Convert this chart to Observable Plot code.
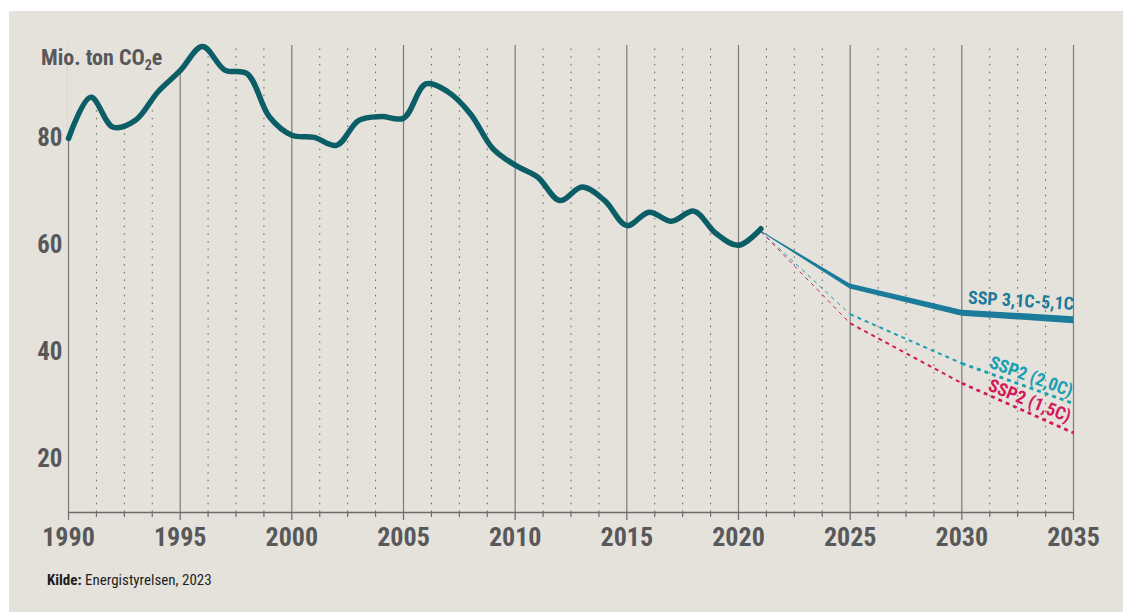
<!DOCTYPE html>
<html>
<head>
<meta charset="utf-8">
<script src="https://cdn.jsdelivr.net/npm/d3@7"></script>
<script src="https://cdn.jsdelivr.net/npm/@observablehq/plot@0.6"></script>
<style>
  html, body { margin: 0; padding: 0; background: #ffffff; }
  #panel { position: absolute; left: 9px; top: 11px; width: 1114px; height: 601px; background: #e5e2dc; overflow: hidden; }
  #chart { position: absolute; left: 0; top: 0; }
  #ytitle { position: absolute; left: 32px; top: 36px; font-family: "Roboto Condensed", "Liberation Sans Narrow", Roboto, sans-serif; font-weight: 700; font-size: 22px; line-height: 22px; color: #58585a; white-space: nowrap; }
  #ytitle sub { font-size: 14px; vertical-align: -5px; line-height: 0; }
  #caption { position: absolute; left: 38px; top: 562px; font-family: "Roboto Condensed", "Liberation Sans Narrow", Roboto, sans-serif; font-size: 15px; line-height: 15px; color: #1e1e1e; white-space: nowrap; }
  #caption b { font-weight: 700; }
</style>
</head>
<body>
<div id="panel">
  <div id="chart"></div>
  <div id="ytitle">Mio. ton CO<sub>2</sub>e</div>
  <div id="caption"><b>Kilde:</b> Energistyrelsen, 2023</div>
</div>
<script>
// ---- Data ----
const years = [1990,1991,1992,1993,1994,1995,1996,1997,1998,1999,2000,2001,2002,2003,2004,2005,2006,2007,2008,2009,2010,2011,2012,2013,2014,2015,2016,2017,2018,2019,2020,2021];
const emissions = [80.0,87.7,82.1,83.4,88.7,92.7,97.2,92.8,92.1,84.0,80.6,80.2,78.7,83.4,84.1,83.8,90.2,88.7,84.6,78.1,75.0,72.8,68.4,70.9,68.4,63.7,66.2,64.5,66.4,62.2,60.0,63.1];

const projYears = [2021, 2025, 2030, 2035];
const ssp31 = [62.6, 52.3, 47.3, 46.0];
const ssp20 = [62.6, 47.1, 37.9, 30.4];
const ssp15 = [62.6, 45.4, 34.2, 24.9];

const seriesLabels = ["SSP 3,1C-5,1C", "SSP2 (2,0C)", "SSP2 (1,5C)"];
const majorTicks = [1990, 1995, 2000, 2005, 2010, 2015, 2020, 2025, 2030, 2035];
const yTicks = [20, 40, 60, 80];

// ---- Layout / style ----
const bg = "#e5e2dc";
const textGray = "#58585a";
const yMin = 10, yMax = 97.4;
const W = 1114, H = 560;
const mL = 59, mR = 50, mT = 34, mB = 59;
const pxPerUnit = (H - mT - mB) / (yMax - yMin);
const font = '"Roboto Condensed", "Liberation Sans Narrow", Roboto, sans-serif';

const minorTicks = d3.range(1990, 2035.001, 1.25).filter(v => Math.abs(v % 5) > 1e-6);

const hist = years.map((y, i) => ({year: y, value: emissions[i]}));
const histMaskData = hist.filter(d => d.year <= 1997);

// tapered band for the main scenario (half widths in px -> data units)
const halfW31 = [0.5, 2.5, 3.0, 3.5];
const band31 = projYears.map((y, i) => ({year: y, lo: ssp31[i] - halfW31[i] / pxPerUnit, hi: ssp31[i] + halfW31[i] / pxPerUnit}));

const segWidths = [1.0, 2.0, 2.8];
function segments(vals, name) {
  const out = [];
  for (let i = 0; i < projYears.length - 1; i++) {
    out.push({x1: projYears[i], y1: vals[i], x2: projYears[i+1], y2: vals[i+1], w: segWidths[i], name});
  }
  return out;
}
const seg20 = segments(ssp20, seriesLabels[1]);
const seg15 = segments(ssp15, seriesLabels[2]);

const labelData = [
  {x: 2035, y: 47.9, text: seriesLabels[0], color: "#1b7b9b", rotate: 3.5},
  {x: 2034.85, y: 31.6, text: seriesLabels[1], color: "#1aa0b2", rotate: 20},
  {x: 2034.75, y: 26.8, text: seriesLabels[2], color: "#d41a5a", rotate: 22}
];

const chart = Plot.plot({
  width: W,
  height: H,
  marginLeft: mL,
  marginRight: mR,
  marginTop: mT,
  marginBottom: mB,
  style: {background: "transparent", fontFamily: font, overflow: "visible"},
  x: {domain: [1990, 2035], label: null},
  y: {domain: [yMin, yMax], label: null},
  marks: [
    // grid
    Plot.ruleX(minorTicks, {y1: yMin, y2: yMax, stroke: "#5e5e5e", strokeWidth: 1, strokeDasharray: "1.5,6.2"}),
    Plot.ruleX(majorTicks, {y1: yMin, y2: yMax, stroke: "#7a7a7a", strokeWidth: 1.2}),
    // mask above early curve
    Plot.areaY(histMaskData, {x: "year", y1: "value", y2: () => yMax + 1, fill: bg, curve: "catmull-rom"}),
    // axes
    Plot.ruleY([yMin], {stroke: "#6b6b6b", strokeWidth: 1.4}),
    Plot.axisX(minorTicks, {tickSize: 5, tickFormat: () => "", stroke: "#6b6b6b", strokeWidth: 1.2}),
    Plot.axisX(majorTicks, {tickSize: 8, tickPadding: 7, tickFormat: d => String(d), stroke: "#6b6b6b", strokeWidth: 1.2, fill: textGray, fontSize: 26, fontWeight: 700}),
    Plot.axisY(yTicks, {tickSize: 0, tickPadding: 6, fill: textGray, fontSize: 25, fontWeight: 700}),
    // projections
    Plot.link(seg20, {x1: "x1", y1: "y1", x2: "x2", y2: "y2", stroke: "#1aa0b2", strokeWidth: "w", strokeDasharray: "4,4"}),
    Plot.link(seg15, {x1: "x1", y1: "y1", x2: "x2", y2: "y2", stroke: "#d41a5a", strokeWidth: "w", strokeDasharray: "4,4"}),
    Plot.areaY(band31, {x: "year", y1: "lo", y2: "hi", fill: "#1b7b9b"}),
    // history
    Plot.line(hist, {x: "year", y: "value", stroke: "#0b5e66", strokeWidth: 5.5, curve: "catmull-rom", strokeLinecap: "round", strokeLinejoin: "round"}),
    // labels
    Plot.text(labelData, {x: "x", y: "y", text: "text", fill: "color", rotate: "rotate", textAnchor: "end", lineAnchor: "bottom", fontSize: 18, fontWeight: 700})
  ]
});
document.getElementById("chart").appendChild(chart);
</script>
</body>
</html>
